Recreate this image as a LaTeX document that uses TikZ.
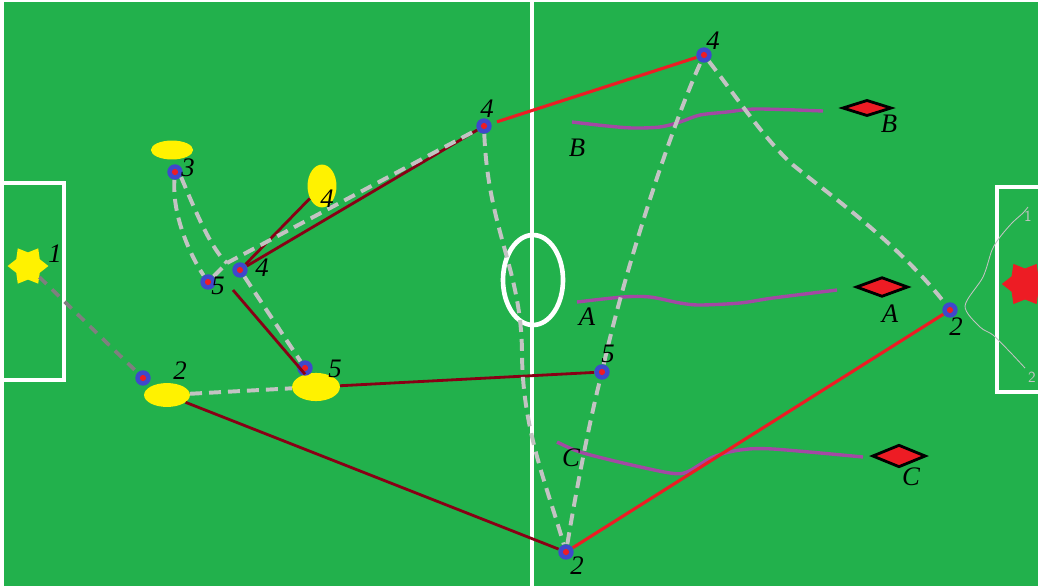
\documentclass[tikz,border=0pt]{standalone}
\usepackage{fontspec}
\setmainfont{Liberation Serif}
\usetikzlibrary{shapes.geometric}

\definecolor{pitch}{HTML}{22B14C}
\definecolor{ppred}{HTML}{ED1C24}
\definecolor{ppblue}{HTML}{3F48CC}
\definecolor{ppyellow}{HTML}{FFF200}
\definecolor{pppurple}{HTML}{A349A4}
\definecolor{ppdark}{HTML}{880015}
\definecolor{ppgray}{HTML}{C3C3C3}
\definecolor{ppgrey}{HTML}{7F7F7F}

\tikzset{
  player/.style={circle,fill=ppblue,inner sep=0pt,minimum size=11pt,
    path picture={\fill[ppred] (path picture bounding box.center) circle (2.2pt);}},
  ball/.style={ellipse,fill=ppyellow,inner sep=0pt},
  cone/.style={diamond,fill=ppred,draw=black,line width=2pt,inner sep=0pt},
  goalstar/.style={star,star points=6,star point ratio=1.5,shape border rotate=30,inner sep=0pt},
  lbl/.style={inner sep=0pt,font=\fontsize{19}{22}\selectfont\itshape},
  chalk/.style={white,line width=3.3pt},
  pass/.style={ppdark,line width=2pt},
  shot/.style={ppred,line width=2.2pt},
  run/.style={ppgray,line width=2.8pt,dash pattern=on 8.5pt off 5pt},
  kick/.style={ppgrey,line width=2.6pt,dash pattern=on 7pt off 5.5pt},
  drib/.style={pppurple,line width=2.4pt}
}

\begin{document}
\begin{tikzpicture}[x=0.025cm,y=-0.025cm]

      \useasboundingbox (0,0) rectangle (1038,586);

      % pitch
      \fill[white] (0,0) rectangle (1038,586);
      \fill[pitch] (4,2) rectangle (1038,586);
      \draw[chalk] (532,0) -- (532,586);
      \draw[chalk] (533,280) ellipse [x radius=30,y radius=45];
      \draw[chalk] (4,183) -- (64,183) -- (64,380) -- (4,380);
      \draw[chalk] (1038,187) -- (997,187) -- (997,392) -- (1038,392);

      % goals
      \node[goalstar,fill=ppyellow,minimum size=29pt] (s1) at (28,266) {};
      \node[goalstar,fill=ppred,minimum size=33pt] (s2) at (1025,284) {};

      % scribble
      \draw[ppgray,line width=0.6pt] plot[smooth] coordinates {(1028,207) (1023,213)
        (1012,223) (1000,237) (992,250) (983,277) (965,306) (980,327) (993,335)
        (1010,352) (1025,368)};
      \node[ppgray,inner sep=0pt,font=\fontsize{11}{12}\selectfont\sffamily] (n1) at (1028,216) {1};
      \node[ppgray,inner sep=0pt,font=\fontsize{11}{12}\selectfont\sffamily] (n2) at (1032,377) {2};

      % balls
      \node[ball,minimum width=30pt,minimum height=13.5pt] (b3) at (172,150) {};
      \node[ball,minimum width=20.6pt,minimum height=30.5pt] (b4) at (322,186) {};
      \node[ball,minimum width=32.6pt,minimum height=17pt] (b2) at (167,395) {};
      \node[ball,minimum width=34pt,minimum height=20pt] (b5) at (316,387) {};

      % cones
      \node[cone,minimum width=35pt,minimum height=11.5pt] (cB) at (867,108) {};
      \node[cone,minimum width=37pt,minimum height=14pt] (cA) at (882,287) {};
      \node[cone,minimum width=38pt,minimum height=16pt] (cC) at (899,456) {};

      % dribbles
      \draw[drib] plot[smooth] coordinates {(572,122) (607,126) (633,128) (660,127)
        (680,122) (700,115) (727,112) (757,109) (823,111)};
      \draw[drib] plot[smooth] coordinates {(577,302) (623,297) (650,297) (680,303)
        (700,305) (740,303) (773,298) (837,290)};
      \draw[drib] plot[smooth] coordinates {(557,442) (580,452) (623,463) (670,473)
        (687,472) (713,457) (740,450) (773,449) (863,457)};

      \begin{scope}[every node/.style={player}]
        \node (p3) at (175,172) {};
        \node (p5a) at (208,282) {};
        \node (p4a) at (240,270) {};
        \node (p2a) at (143,378) {};
        \node (p5b) at (305,368) {};
        \node (p4b) at (484,126) {};
        \node (p4c) at (704,55) {};
        \node (p5c) at (602,372) {};
        \node (p2b) at (566,552) {};
        \node (p2c) at (950,310) {};
      \end{scope}

      \coordinate (j) at (227,263);
      \coordinate (q) at (233,290);
      \coordinate (m1) at (522,355);
      \coordinate (m2) at (793,165);

      \begin{scope}[every edge/.style={draw,pass}]
        \path (p4a) edge (b4);
        \path (p4a) edge (p4b);
        \path (q) edge (b5);
        \path (b5) edge (p5c);
        \path (b2) edge (p2b);
      \end{scope}

      \begin{scope}[every edge/.style={draw,shot}]
        \path (p4b) edge[shorten <=4pt] (p4c);
        \path (p2b) edge (p2c);
      \end{scope}

      \begin{scope}[every edge/.style={draw,run}]
        \path (b2) edge (b5);
        \path (p4a) edge (p5b);
        \path (p5a) edge (j);
        \path (j) edge (p4b);
      \end{scope}

      \draw[run] (p3) .. controls (172,215) and (190,255) .. (p5a);
      \draw[run] (p3.-40) .. controls (197,215) and (212,250) .. (j);
      \draw[run] (p4b) .. controls (488,230) and (522,270) .. (m1)
        .. controls (523,430) and (545,480) .. (p2b);
      \draw[run] (p2b) .. controls (578,480) and (590,420) .. (p5c);
      \draw[run] (p5c) .. controls (625,270) and (670,130) .. (p4c);
      \draw[run] (p4c) .. controls (735,95) and (765,140) .. (m2)
        .. controls (830,195) and (900,245) .. (p2c);
      \draw[kick] (s1) -- (p2a);

      \begin{scope}[every node/.style={lbl}]
        \node (l1) at (55,254) {1};
        \node (l3) at (188,168) {3};
        \node (l5a) at (218,286) {5};
        \node (l4a) at (262,268) {4};
        \node (l4) at (327,199) {4};
        \node (l2a) at (180,371) {2};
        \node (l5b) at (335,369) {5};
        \node (l4b) at (487,109) {4};
        \node (l4c) at (713,41) {4};
        \node (l5c) at (608,354) {5};
        \node (l2b) at (577,566) {2};
        \node (l2c) at (956,327) {2};
        \node (lB) at (577,148) {B};
        \node (lBc) at (889,124) {B};
        \node (lA) at (587,317) {A};
        \node (lAc) at (890,314) {A};
        \node (lC) at (571,458) {C};
        \node (lCc) at (911,477) {C};
      \end{scope}

    \end{tikzpicture}
\end{document}
